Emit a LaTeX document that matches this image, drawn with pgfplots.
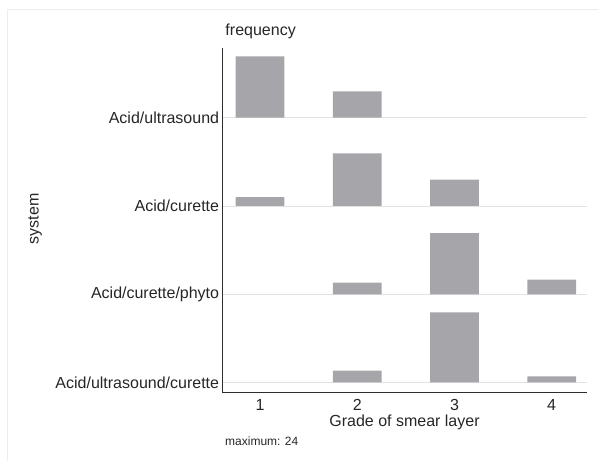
\documentclass[border=0pt]{standalone}
\usepackage{fontspec}
\setmainfont{Liberation Sans}
\usepackage{pgfplots}
\usepackage{pgfplotstable}
\pgfplotsset{compat=1.18}

\definecolor{barfill}{RGB}{166,166,170}
\definecolor{gridgray}{RGB}{226,226,226}
\definecolor{axisgray}{RGB}{45,45,45}

% frequency per grade of smear layer, one table per system
\pgfplotstableread{
grade freq
1 21
2 9
}\ultrasound
\pgfplotstableread{
grade freq
1 3
2 18
3 9
}\curette
\pgfplotstableread{
grade freq
2 4
3 21
4 5
}\phyto
\pgfplotstableread{
grade freq
2 4
3 24
4 2
}\ultracur

\pgfplotsset{
  base/.style={
    width=364.4pt, height=344pt, scale only axis,
    at={(222.3pt,-392.3pt)}, anchor=south west,
    xmin=0.612, xmax=4.36,
  },
  panel/.style={
    base, hide axis,
    ymin=-3.43-#1, ymax=114.5-#1,
    ybar, bar width=0.5,
  },
}

\begin{document}
\begin{tikzpicture}
\useasboundingbox (0pt,0pt) rectangle (598pt,-461pt);
\draw[black!7, line width=1pt] (7pt,-9pt) -- (598pt,-9pt);
\draw[black!7, line width=1pt] (7pt,-9pt) -- (7pt,-461pt);

\begin{axis}[
  base,
  ymin=-3.43, ymax=114.5,
  axis x line*=bottom, axis y line*=left,
  axis line style={-, axisgray, line width=1.2pt},
  xtick={1,2,3,4},
  ytick={0,30.17,60.45,90.72},
  yticklabels={Acid/ultrasound/curette, Acid/curette/phyto, Acid/curette, Acid/ultrasound},
  /pgf/number format/assume math mode=true,
  major tick length=0pt,
  ymajorgrids, grid style={gridgray, line width=0.8pt},
  tick label style={font=\fontsize{16}{19}\selectfont, text=black!85, inner sep=0pt},
  yticklabel style={anchor=east, xshift=-3pt},
  xticklabel style={anchor=north, yshift=-6.5pt},
  xlabel={Grade of smear layer},
  xlabel style={at={(axis description cs:0.5,0)}, anchor=north, yshift=-22.3pt,
    inner sep=0pt, font=\fontsize{16}{19}\selectfont, text=black!85},
  title={frequency},
  title style={at={(axis description cs:0,1)}, anchor=south west, xshift=3pt, yshift=3pt,
    inner sep=0pt, font=\fontsize{16}{19}\selectfont, text=black!85},
]
\end{axis}

\begin{axis}[panel=90.72]
\addplot[fill=barfill, draw=none] table[x=grade, y=freq] {\ultrasound};
\end{axis}
\begin{axis}[panel=60.45]
\addplot[fill=barfill, draw=none] table[x=grade, y=freq] {\curette};
\end{axis}
\begin{axis}[panel=30.17]
\addplot[fill=barfill, draw=none] table[x=grade, y=freq] {\phyto};
\end{axis}
\begin{axis}[panel=0]
\addplot[fill=barfill, draw=none] table[x=grade, y=freq] {\ultracur};
\end{axis}

\node[rotate=90, inner sep=0pt, font=\fontsize{16}{19}\selectfont, text=black!85] at (35pt,-219pt) {system};
\node[anchor=west, inner sep=0pt, font=\fontsize{12}{14}\selectfont, text=black!85] at (225pt,-441pt) {maximum: 24};
\end{tikzpicture}
\end{document}
